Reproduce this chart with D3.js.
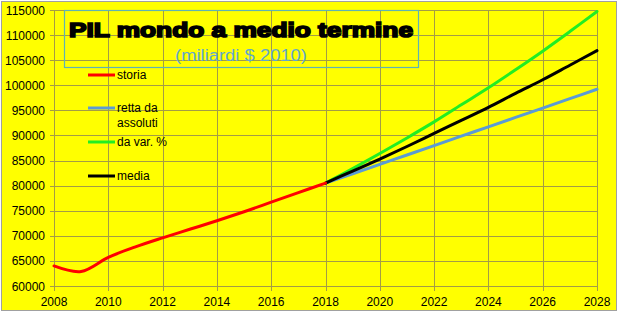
<!DOCTYPE html>
<html lang="en">
<head>
<meta charset="UTF-8"/>
<title>PIL mondo a medio termine</title>
<script src="https://d3js.org/d3.v7.min.js"></script>
<style>
  body { margin: 0; background: #fff; }
  text { font-family: "Liberation Sans", Arial, sans-serif; }
</style>
</head>
<body>
<script>
// data
var histYears = [2008, 2009, 2010, 2011, 2012, 2013, 2014, 2015, 2016, 2017, 2018];
var storia    = [64000, 62900, 65700, 67800, 69600, 71300, 73000, 74800, 76700, 78600, 80500];

var projYears = [2018, 2019, 2020, 2021, 2022, 2023, 2024, 2025, 2026, 2027, 2028];
var retta     = [80500, 82370, 84240, 86110, 87980, 89850, 91720, 93590, 95460, 97330, 99200];
var varPerc   = [80500, 83400, 86400, 89500, 92700, 96100, 99500, 103100, 106800, 110700, 114700];
var media     = [80500, 82900, 85300, 87800, 90400, 93000, 95600, 98400, 101100, 104000, 106900];

var xTicks = [2008, 2010, 2012, 2014, 2016, 2018, 2020, 2022, 2024, 2026, 2028];
var yTicks = [60000, 65000, 70000, 75000, 80000, 85000, 90000, 95000, 100000, 105000, 110000, 115000];

var legendNames  = ["storia", "retta da|assoluti", "da var. %", "media"];
var legendColors = ["#ff0000", "#5b9bd5", "#22ee22", "#000000"];

var w = 620, h = 313;
var plotLeft = 54, plotRight = 597, plotTop = 10, plotBottom = 286;
var gridColor = "#a39c45";

var svg = d3.select("body").append("svg")
    .attr("width", w)
    .attr("height", h);

// chart area
svg.append("rect")
    .attr("x", 1.5).attr("y", 1.5)
    .attr("width", 615).attr("height", 309)
    .attr("fill", "#ffff00")
    .attr("stroke", "#a0a0a0");

var x = d3.scaleLinear().domain([2008, 2028]).range([plotLeft, plotRight]);
var y = d3.scaleLinear().domain([60000, 115000]).range([plotBottom, plotTop]);

// grid
svg.selectAll(".hgrid").data(yTicks).enter().append("line")
    .attr("x1", plotLeft - 4).attr("x2", plotRight)
    .attr("y1", function (d) { return Math.round(y(d)) + 0.5; })
    .attr("y2", function (d) { return Math.round(y(d)) + 0.5; })
    .attr("stroke", gridColor).attr("stroke-width", 1);

svg.selectAll(".vgrid").data(xTicks).enter().append("line")
    .attr("x1", function (d) { return Math.round(x(d)) + 0.5; })
    .attr("x2", function (d) { return Math.round(x(d)) + 0.5; })
    .attr("y1", plotTop).attr("y2", plotBottom + 5)
    .attr("stroke", gridColor).attr("stroke-width", 1);

// tick labels
svg.selectAll(".ylab").data(yTicks).enter().append("text")
    .attr("x", 45)
    .attr("y", function (d) { return y(d) + 4.5; })
    .attr("text-anchor", "end")
    .attr("font-size", "12px")
    .attr("fill", "#000")
    .text(function (d) { return d; });

svg.selectAll(".xlab").data(xTicks).enter().append("text")
    .attr("x", function (d) { return x(d); })
    .attr("y", 306)
    .attr("text-anchor", "middle")
    .attr("font-size", "12px")
    .attr("fill", "#000")
    .text(function (d) { return d; });

// lines
function drawLine(years, vals, color) {
    var line = d3.line()
        .x(function (d, i) { return x(years[i]); })
        .y(function (d) { return y(d); })
        .curve(d3.curveCatmullRom.alpha(0.5));
    svg.append("path")
        .datum(vals)
        .attr("d", line)
        .attr("fill", "none")
        .attr("stroke", color)
        .attr("stroke-width", 3)
        .attr("stroke-linecap", "round");
}
drawLine(projYears, retta, legendColors[1]);
drawLine(projYears, varPerc, legendColors[2]);
drawLine(projYears, media, legendColors[3]);
drawLine(histYears, storia, legendColors[0]);

// title box
svg.append("rect")
    .attr("x", 64.5).attr("y", 10.5)
    .attr("width", 354).attr("height", 57)
    .attr("fill", "none")
    .attr("stroke", "#5fb3b3")
    .attr("stroke-width", 1.2);

svg.append("text")
    .attr("x", 241).attr("y", 37)
    .attr("text-anchor", "middle")
    .attr("font-size", "21px")
    .attr("font-weight", "bold")
    .attr("fill", "#000")
    .attr("stroke", "#000")
    .attr("stroke-width", 1.7)
    .attr("textLength", 344)
    .attr("lengthAdjust", "spacingAndGlyphs")
    .text("PIL mondo a medio termine");

svg.append("text")
    .attr("x", 241).attr("y", 61)
    .attr("text-anchor", "middle")
    .attr("font-size", "16px")
    .attr("fill", "#62a8cc")
    .attr("textLength", 132)
    .attr("lengthAdjust", "spacingAndGlyphs")
    .text("(miliardi $ 2010)");

// legend
var legY = [75, 108, 142, 176];
var leg = svg.selectAll(".leg").data(legendNames).enter().append("g")
    .attr("transform", function (d, i) { return "translate(88," + legY[i] + ")"; });

leg.append("line")
    .attr("x1", 0).attr("x2", 27)
    .attr("y1", 0).attr("y2", 0)
    .attr("stroke", function (d, i) { return legendColors[i]; })
    .attr("stroke-width", 3);

leg.each(function (d) {
    var parts = d.split("|");
    var t = d3.select(this).append("text")
        .attr("x", 29).attr("y", 4)
        .attr("font-size", "12px")
        .attr("fill", "#000");
    parts.forEach(function (p, j) {
        t.append("tspan").attr("x", 29).attr("dy", j === 0 ? 0 : 15).text(p);
    });
});
</script>
</body>
</html>
